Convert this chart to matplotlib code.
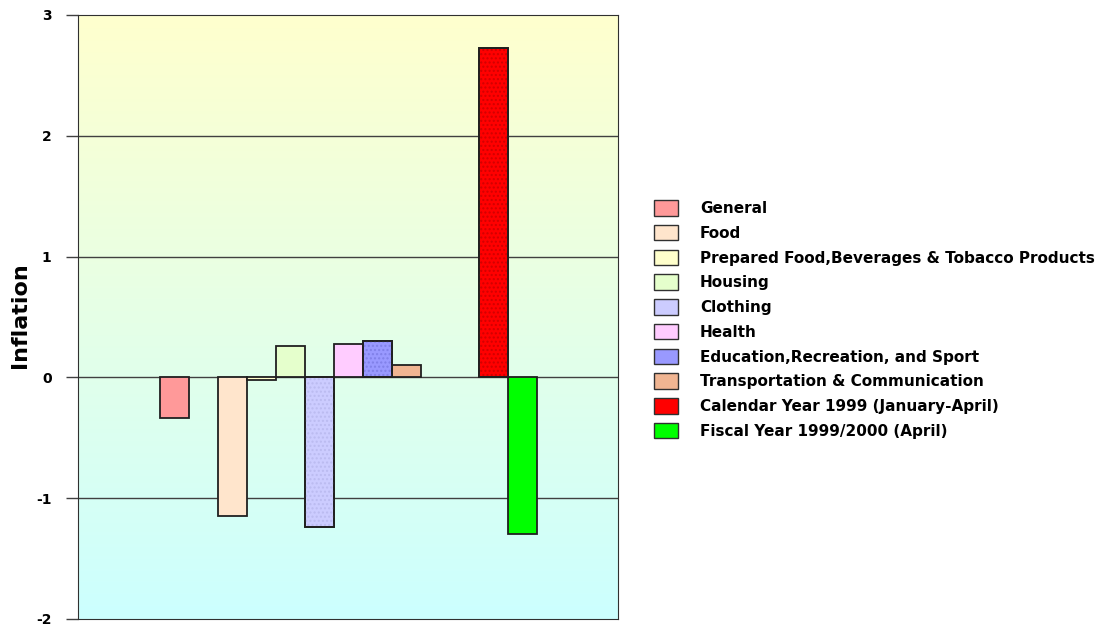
import numpy as np
import matplotlib.pyplot as plt
from matplotlib.patches import Patch

plt.rcParams['font.family'] = 'DejaVu Sans'
plt.rcParams['font.weight'] = 'bold'
plt.rcParams['axes.unicode_minus'] = False

categories = ['General', 'Food', 'Prepared Food,Beverages & Tobacco Products',
              'Housing', 'Clothing', 'Health', 'Education,Recreation, and Sport',
              'Transportation & Communication', 'Calendar Year 1999 (January-April)',
              'Fiscal Year 1999/2000 (April)']
values = [-0.34, -1.15, -0.02, 0.26, -1.24, 0.28, 0.30, 0.10, 2.73, -1.30]
slots = [0, 2, 3, 4, 5, 6, 7, 8, 11, 12]
colors = ['#FF9999', '#FFE5CC', '#FFFFCC', '#E5FFCC', '#CCCCFF',
          '#FFCCFF', '#9999FF', '#F0B592', '#FF0000', '#00FF00']
hatch_cols = [None, None, None, None, '#BBBBF0', None, '#8080E8', None, '#D00000', None]

fig = plt.figure(figsize=(11.01, 6.28), dpi=100)
ax = fig.add_axes([78/1101, 9/628, 540/1101, 604/628])

xlo, xhi = -2.83, 15.79
ylo, yhi = -2, 3

# yellow-to-cyan background
top = np.array([255, 255, 206]) / 255
bot = np.array([204, 255, 255]) / 255
t = np.linspace(0, 1, 256)[:, None]
grad = (top * (1 - t) + bot * t)[:, None, :]
ax.imshow(grad, extent=[xlo, xhi, ylo, yhi], aspect='auto', zorder=0)

for yv in range(-1, 3):
    ax.axhline(yv, color='#404040', lw=1.0, zorder=1)

ax.bar(slots, values, width=1, align='edge', color=colors,
       edgecolor='#202020', linewidth=1.3, zorder=3)
for s, v, hc in zip(slots, values, hatch_cols):
    if hc:
        ax.bar(s, v, width=1, align='edge', color='none', edgecolor=hc,
               hatch='....', linewidth=0, zorder=3.5)
        ax.bar(s, v, width=1, align='edge', color='none', edgecolor='#202020',
               linewidth=1.3, zorder=4)

ax.set_xlim(xlo, xhi)
ax.set_ylim(ylo, yhi)
ax.set_xticks([])
ax.set_yticks(range(-2, 4))
ax.tick_params(axis='y', direction='out', length=9, width=1, color='#404040',
               labelsize=10, pad=10)
for sp in ax.spines.values():
    sp.set_color('#303030')

fig.text(20/1101, 1 - 315/628, 'Inflation', rotation=90, fontsize=16,
         fontweight='bold', ha='center', va='center')

handles = [Patch(facecolor=c, edgecolor='#303030', linewidth=1) for c in colors]
fig.legend(handles, categories, loc='upper left', bbox_to_anchor=(648/1101, 1 - 194/628),
           frameon=False, fontsize=11, handlelength=1.57, handleheight=1.18,
           labelspacing=0.58, handletextpad=1.44, borderaxespad=0)

fig.savefig('out.png', dpi=100)
